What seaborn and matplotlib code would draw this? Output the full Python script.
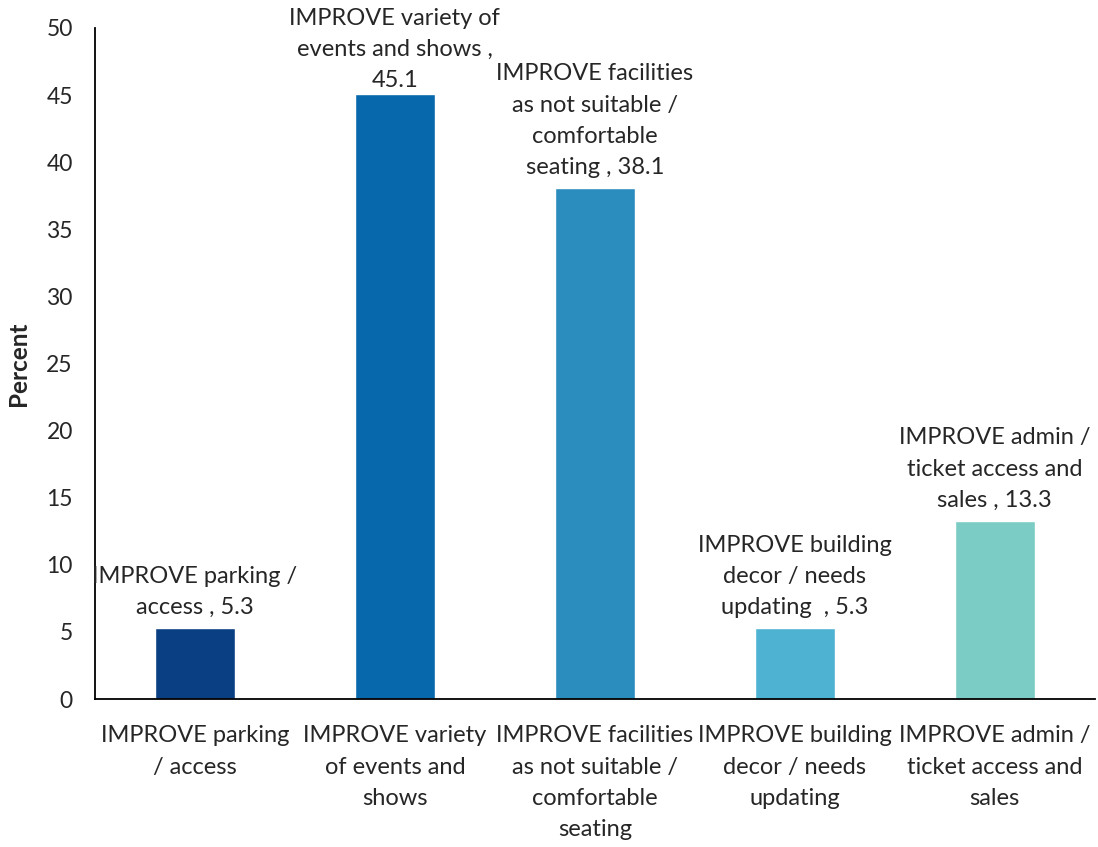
import numpy as np
import pandas as pd
import matplotlib
matplotlib.use("Agg")
import matplotlib.pyplot as plt
import seaborn as sns

categories = [
    "IMPROVE parking / access",
    "IMPROVE variety of events and shows",
    "IMPROVE facilities as not suitable / comfortable seating",
    "IMPROVE building decor / needs updating ",
    "IMPROVE admin / ticket access and sales",
]
values = [5.3, 45.1, 38.1, 5.3, 13.3]

# wrapped text as it appears on the chart
tick_labels = [
    "IMPROVE parking\n/ access",
    "IMPROVE variety\nof events and\nshows",
    "IMPROVE facilities\nas not suitable /\ncomfortable\nseating",
    "IMPROVE building\ndecor / needs\nupdating",
    "IMPROVE admin /\nticket access and\nsales",
]
bar_labels = [
    "IMPROVE parking /\naccess , 5.3",
    "IMPROVE variety of\nevents and shows ,\n45.1",
    "IMPROVE facilities\nas not suitable /\ncomfortable\nseating , 38.1",
    "IMPROVE building\ndecor / needs\nupdating  , 5.3",
    "IMPROVE admin /\nticket access and\nsales , 13.3",
]
colors = ["#0a3f84", "#0868ac", "#2b8cbe", "#4eb3d3", "#7bccc4"]

sns.set_style("white")
plt.rcParams["font.family"] = ["Lato", "DejaVu Sans"]

df = pd.DataFrame({"cat": categories, "pct": values})

fig = plt.figure(figsize=(10.98, 8.47), dpi=100)
ax = fig.add_axes([0.0865, 0.1747, 0.9105, 0.7923])

sns.barplot(data=df, x="cat", y="pct", hue="cat", palette=colors,
            width=0.4, legend=False, saturation=1, ax=ax)

ax.set_ylim(0, 50)
ax.set_yticks(np.arange(0, 51, 5))
ax.set_xlim(-0.5, 4.5)
ax.set_xticks(range(5))
ax.set_xticklabels(tick_labels, fontsize=17, linespacing=1.6)
ax.set_xticks(np.arange(-0.5, 5), minor=True)
ax.tick_params(axis="x", which="major", length=0, pad=19)
ax.tick_params(axis="x", which="minor", direction="in", length=5, width=1.3, color="black")
ax.tick_params(axis="y", direction="out", length=5, width=1.3, color="black",
               labelsize=16.5, pad=11)
ax.set_xlabel("")
ax.set_ylabel("Percent", fontsize=17.5, fontweight="bold", labelpad=12)

for side in ["top", "right"]:
    ax.spines[side].set_visible(False)
for side in ["left", "bottom"]:
    ax.spines[side].set_color("black")
    ax.spines[side].set_linewidth(1.3)

# data labels above bars, kept inside the figure
fig.canvas.draw()
renderer = fig.canvas.get_renderer()
for i, (v, lab) in enumerate(zip(values, bar_labels)):
    t = ax.annotate(lab, xy=(i, v), xytext=(0, 7), textcoords="offset points",
                    ha="center", va="bottom", fontsize=17, linespacing=1.6,
                    annotation_clip=False)
    bb = t.get_window_extent(renderer)
    top_limit = fig.bbox.height - 8
    if bb.y1 > top_limit:
        shift = (bb.y1 - top_limit) * 72 / fig.dpi
        t.xyann = (0, 7 - shift)

fig.savefig("out.png", dpi=100)
